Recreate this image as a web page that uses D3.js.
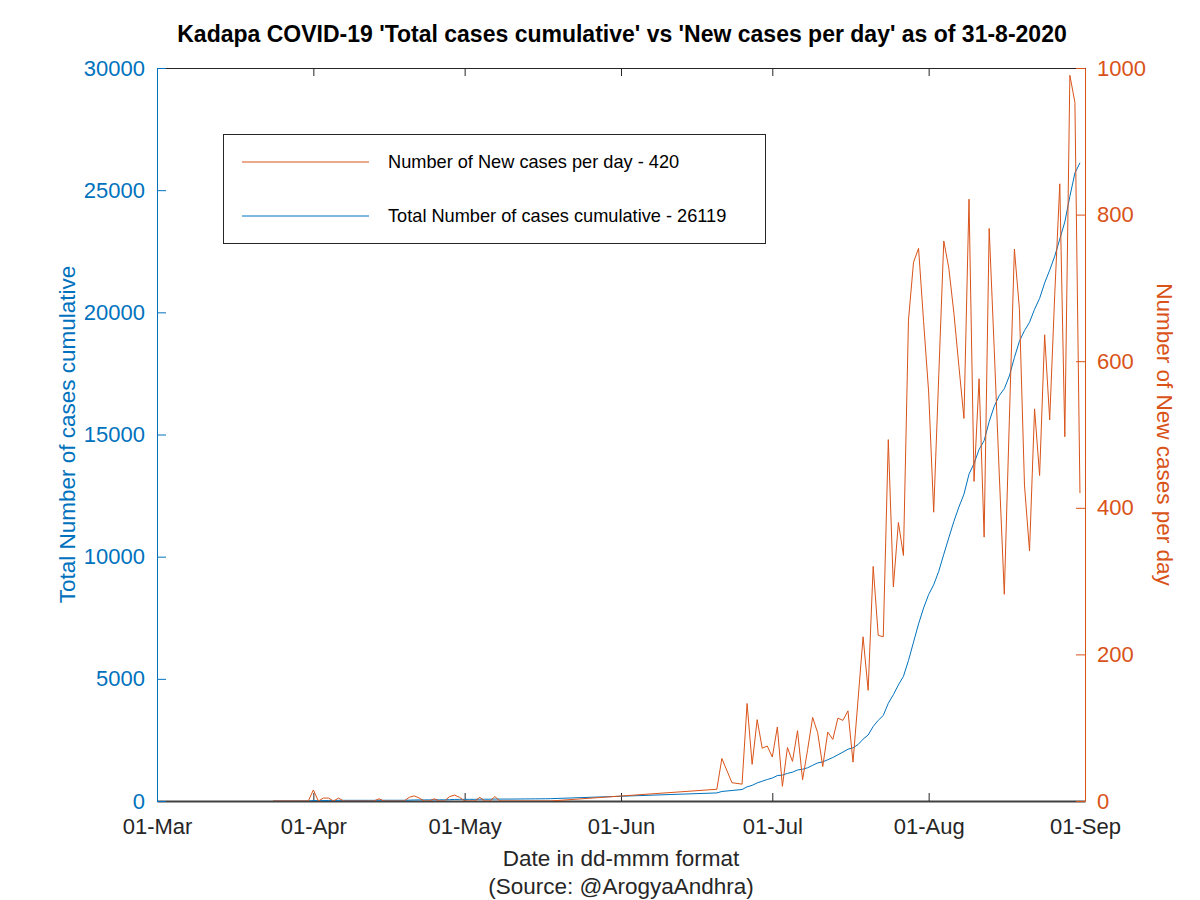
<!DOCTYPE html>
<html>
<head>
<meta charset="utf-8">
<script src="https://cdn.jsdelivr.net/npm/d3@7"></script>
<style>
  html, body { margin: 0; padding: 0; background: #fff; }
  svg { display: block; font-family: "Liberation Sans", Arial, Helvetica, sans-serif; }
</style>
</head>
<body>
<svg id="chart" width="1200" height="900"></svg>
<script>
// ---------------- DATA ----------------
const titleText = "Kadapa COVID-19 'Total cases cumulative' vs 'New cases per day' as of 31-8-2020";
const xTickDates = ["2020-03-01","2020-04-01","2020-05-01","2020-06-01","2020-07-01","2020-08-01","2020-09-01"];
const leftTicks = [0, 5000, 10000, 15000, 20000, 25000, 30000];
const rightTicks = [0, 200, 400, 600, 800, 1000];

const dates = [
  "2020-03-24","2020-03-25","2020-03-26","2020-03-27","2020-03-28","2020-03-29","2020-03-30","2020-03-31",
  "2020-04-01","2020-04-02","2020-04-03","2020-04-04","2020-04-05","2020-04-06","2020-04-07","2020-04-08",
  "2020-04-09","2020-04-10","2020-04-11","2020-04-12","2020-04-13","2020-04-14","2020-04-15","2020-04-16",
  "2020-04-17","2020-04-18","2020-04-19","2020-04-20","2020-04-21","2020-04-22","2020-04-23","2020-04-24",
  "2020-04-25","2020-04-26","2020-04-27","2020-04-28","2020-04-29","2020-04-30","2020-05-01","2020-05-02",
  "2020-05-03","2020-05-04","2020-05-05","2020-05-06","2020-05-07","2020-05-08","2020-05-09","2020-05-10",
  "2020-05-11","2020-05-12","2020-05-13","2020-05-14","2020-05-15","2020-05-16","2020-05-17","2020-05-18",
  "2020-06-20","2020-06-21","2020-06-23","2020-06-25","2020-06-26","2020-06-27","2020-06-28","2020-06-29",
  "2020-06-30","2020-07-01","2020-07-02","2020-07-03","2020-07-04","2020-07-05","2020-07-06","2020-07-07",
  "2020-07-08","2020-07-09","2020-07-10","2020-07-11","2020-07-12","2020-07-13","2020-07-14","2020-07-15",
  "2020-07-16","2020-07-17","2020-07-18","2020-07-19","2020-07-20","2020-07-21","2020-07-22","2020-07-23",
  "2020-07-24","2020-07-25","2020-07-26","2020-07-27","2020-07-28","2020-07-29","2020-07-30","2020-07-31",
  "2020-08-01","2020-08-02","2020-08-03","2020-08-04","2020-08-05","2020-08-06","2020-08-07","2020-08-08",
  "2020-08-09","2020-08-10","2020-08-11","2020-08-12","2020-08-13","2020-08-14","2020-08-15","2020-08-16",
  "2020-08-17","2020-08-18","2020-08-19","2020-08-20","2020-08-21","2020-08-22","2020-08-23","2020-08-24",
  "2020-08-25","2020-08-26","2020-08-27","2020-08-28","2020-08-29","2020-08-30","2020-08-31"
];

const newCases = [
  0,0,0,0,0,0,0,0,
  15,0,4,4,0,4,0,0,
  0,0,0,0,0,3,0,0,
  0,0,0,5,7,4,0,0,
  3,0,0,6,8,5,0,0,
  0,5,0,0,6,0,0,0,
  0,0,0,0,0,0,0,0,
  16,58,25,23,133,50,111,72,
  75,60,101,20,73,54,96,29,
  70,114,93,47,94,84,113,110,
  123,53,138,224,151,320,226,224,
  493,292,380,335,656,735,754,654,
  558,394,580,764,727,666,593,522,
  821,436,576,360,781,617,446,282,
  520,753,671,431,341,535,444,636,
  520,691,842,497,990,953,420
];

const totalCases = [
  0,0,0,0,0,0,0,0,
  15,15,19,23,23,27,27,27,
  27,27,27,27,27,30,30,30,
  30,30,30,35,42,46,46,46,
  49,49,49,55,63,68,68,68,
  68,73,73,73,79,79,79,79,
  80,82,84,86,88,90,92,95,
  330,390,430,470,580,640,740,810,
  880,940,1040,1060,1130,1180,1270,1300,
  1360,1460,1560,1600,1690,1780,1890,2000,
  2120,2175,2310,2532,2700,3050,3300,3500,
  4000,4350,4750,5100,5750,6500,7250,7900,
  8450,8850,9400,10100,10775,11441,12034,12556,
  13377,13813,14389,14749,15530,16147,16593,16875,
  17395,18148,18819,19250,19591,20126,20570,21206,
  21726,22300,23000,23700,24746,25699,26119
];

const legendNew = "Number of New cases per day - 420";
const legendTotal = "Total Number of cases cumulative - 26119";
const xLabel = "Date in dd-mmm format";
const sourceLabel = "(Source: @ArogyaAndhra)";
const leftLabel = "Total Number of cases cumulative";
const rightLabel = "Number of New cases per day";

// ---------------- DRAW ----------------
const BLUE = "#0072BD", ORANGE = "#D95319", DARK = "#262626";
const parse = d3.utcParse("%Y-%m-%d");
const L = 157, R = 1085, T = 68, B = 801;

const svg = d3.select("#chart");

const x = d3.scaleUtc().domain([parse("2020-03-01"), parse("2020-09-01")]).range([L, R]);
const yL = d3.scaleLinear().domain([0, 30000]).range([B, T]);
const yR = d3.scaleLinear().domain([0, 1000]).range([B, T]);

const rows = dates.map((d, i) => ({ date: parse(d), nc: newCases[i], tc: totalCases[i] }));

svg.append("defs").append("clipPath").attr("id", "clip")
  .append("rect").attr("x", L).attr("y", T).attr("width", R - L).attr("height", B - T);

// top axis (ticks only)
const gTop = svg.append("g").attr("transform", `translate(0,${T})`)
  .call(d3.axisTop(x).tickValues(xTickDates.map(parse)).tickSizeInner(-8).tickSizeOuter(0).tickFormat(""));
gTop.select(".domain").attr("stroke", DARK).attr("stroke-width", 1);
gTop.selectAll(".tick line").attr("stroke", DARK);

// bottom axis
const gBot = svg.append("g").attr("transform", `translate(0,${B})`)
  .call(d3.axisBottom(x).tickValues(xTickDates.map(parse)).tickSizeInner(-8).tickSizeOuter(0)
    .tickPadding(17).tickFormat(d3.utcFormat("%d-%b")));
gBot.select(".domain").attr("stroke", "#404040").attr("stroke-width", 2);
gBot.selectAll(".tick line").attr("stroke", DARK);
gBot.selectAll(".tick text").attr("fill", DARK).attr("font-size", 22);

// left axis
const gLeft = svg.append("g").attr("transform", `translate(${L},0)`)
  .call(d3.axisLeft(yL).tickValues(leftTicks).tickSizeInner(-9).tickSizeOuter(0).tickPadding(12).tickFormat(d3.format("d")));
gLeft.select(".domain").attr("stroke", BLUE).attr("stroke-width", 1);
gLeft.selectAll(".tick line").attr("stroke", BLUE);
gLeft.selectAll(".tick text").attr("fill", BLUE).attr("font-size", 22);

// right axis
const gRight = svg.append("g").attr("transform", `translate(${R},0)`)
  .call(d3.axisRight(yR).tickValues(rightTicks).tickSizeInner(-9).tickSizeOuter(0).tickPadding(12).tickFormat(d3.format("d")));
gRight.select(".domain").attr("stroke", ORANGE).attr("stroke-width", 1);
gRight.selectAll(".tick line").attr("stroke", ORANGE);
gRight.selectAll(".tick text").attr("fill", ORANGE).attr("font-size", 22);

// lines
const plot = svg.append("g").attr("clip-path", "url(#clip)");
plot.append("path").datum(rows)
  .attr("fill", "none").attr("stroke", BLUE).attr("stroke-width", 1)
  .attr("d", d3.line().x(d => x(d.date)).y(d => yL(d.tc)));
plot.append("path").datum(rows)
  .attr("fill", "none").attr("stroke", ORANGE).attr("stroke-width", 1)
  .attr("d", d3.line().x(d => x(d.date)).y(d => yR(d.nc)));

// title
svg.append("text").attr("x", 622).attr("y", 42).attr("text-anchor", "middle")
  .attr("font-weight", "bold").attr("font-size", 23).attr("fill", "#000").text(titleText);

// axis labels
svg.append("text").attr("x", (L + R) / 2).attr("y", 866).attr("text-anchor", "middle")
  .attr("font-size", 22.5).attr("fill", DARK).text(xLabel);
svg.append("text").attr("x", (L + R) / 2).attr("y", 894).attr("text-anchor", "middle")
  .attr("font-size", 22.5).attr("fill", DARK).text(sourceLabel);
svg.append("text").attr("transform", `translate(75,${(T + B) / 2}) rotate(-90)`).attr("text-anchor", "middle")
  .attr("font-size", 22.5).attr("fill", BLUE).text(leftLabel);
svg.append("text").attr("transform", `translate(1157,${(T + B) / 2}) rotate(90)`).attr("text-anchor", "middle")
  .attr("font-size", 22.5).attr("fill", ORANGE).text(rightLabel);

// legend
const lg = svg.append("g");
lg.append("rect").attr("x", 223.5).attr("y", 134.5).attr("width", 542).attr("height", 109)
  .attr("fill", "#fff").attr("stroke", DARK).attr("stroke-width", 1);
const legendItems = [
  { label: legendNew, color: ORANGE, y: 162 },
  { label: legendTotal, color: BLUE, y: 216 }
];
legendItems.forEach(it => {
  lg.append("line").attr("x1", 242).attr("x2", 369).attr("y1", it.y).attr("y2", it.y)
    .attr("stroke", it.color).attr("stroke-width", 1);
  lg.append("text").attr("x", 388).attr("y", it.y).attr("dy", "0.35em")
    .attr("font-size", 18.2).attr("fill", "#000").text(it.label);
});
</script>
</body>
</html>
